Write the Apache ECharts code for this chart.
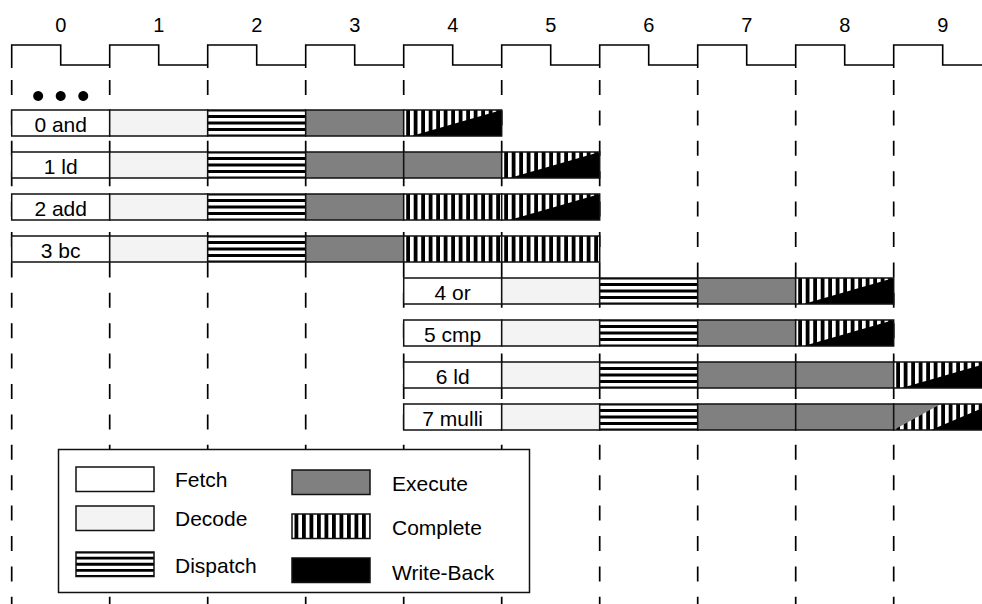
<!DOCTYPE html>
<html>
<head>
<meta charset="utf-8">
<script src="https://cdn.jsdelivr.net/npm/echarts@6/dist/echarts.min.js"></script>
<style>
html,body{margin:0;padding:0;background:#fff;}
#chart{width:982px;height:604px;}
</style>
</head>
<body>
<div id="chart"></div>
<script>
// ---------------- data ----------------
const cycleLabels = ['0','1','2','3','4','5','6','7','8','9'];
const instrLabels = ['0 and','1 ld','2 add','3 bc','4 or','5 cmp','6 ld','7 mulli'];
const fetchCycle = [0,0,0,0,4,4,4,4];
const stageSequences = [
  ['fetch','decode','dispatch','execute','complete-wb'],
  ['fetch','decode','dispatch','execute','execute','complete-wb'],
  ['fetch','decode','dispatch','execute','complete','complete-wb'],
  ['fetch','decode','dispatch','execute','complete','complete'],
  ['fetch','decode','dispatch','execute','complete-wb'],
  ['fetch','decode','dispatch','execute','complete-wb'],
  ['fetch','decode','dispatch','execute','execute','complete-wb'],
  ['fetch','decode','dispatch','execute','execute','execute-complete-wb']
];
const legendStages = ['Fetch','Decode','Dispatch','Execute','Complete','Write-Back'];
const legendKinds  = ['fetch','decode','dispatch','execute','complete','writeback'];

// ---------------- layout constants (row units / pixels) ----------------
const X_MAX = (982 - 11.7) / 98;
const Y_MIN = -123/42, Y_MAX = (604-123)/42;
const HALF = 13/42;
const CLOCK_HIGH = (45-123)/42, CLOCK_LOW = (65-123)/42, CLOCK_EDGE = (68-123)/42;
const LABEL_ROW = (25-123)/42;
const DASH_TOP = (80-123)/42, DASH_BOTTOM = Y_MAX + 0.1;
const DOTS_ROW = (96-123)/42;
const FONT = '"Liberation Sans", Arial, Helvetica, sans-serif';
const BORDER = '#111';
const FILLS = {fetch:'#ffffff', decode:'#f3f3f3', dispatch:'#ffffff', execute:'#808080',
  complete:'#ffffff', 'complete-wb':'#ffffff', 'execute-complete-wb':'#ffffff', writeback:'#000000'};

// build cells
const cells = [];
stageSequences.forEach((seq, row) => {
  seq.forEach((kind, j) => {
    cells.push({row, cycle: fetchCycle[row] + j, kind, label: j === 0 ? instrLabels[row] : ''});
  });
});

function rect(x,y,w,h,fill,z){ return {type:'rect', z:z, shape:{x,y,width:w,height:h}, style:{fill, stroke:null}}; }
function poly(points, fill, z){ return {type:'polygon', z:z, shape:{points}, style:{fill, stroke:null}}; }
function txt(x,y,text,size,align,z){
  return {type:'text', z:z, style:{x, y, text, fill:'#000', fontSize:size, fontFamily:FONT,
    align:align, textAlign:align, verticalAlign:'middle', textVerticalAlign:'middle'}};
}
function hStripes(x,y,w,h,z){
  const out = []; const p = h/4;
  for (let k=0;k<=4;k++){
    let y0 = y + k*p - 1.4, y1 = y0 + 2.8;
    y0 = Math.max(y0, y); y1 = Math.min(y1, y+h);
    out.push(rect(x, y0, w, y1-y0, '#000', z));
  }
  return out;
}
function vStripes(x,y,w,h,period,z){
  const out = [];
  for (let sx = x + 2.5; sx < x + w; sx += period){
    out.push(rect(sx, y, Math.min(3.8, x + w - sx), h, '#000', z));
  }
  return out;
}
function swatch(kind, x, y, w, h, z){
  const ch = [];
  ch.push(rect(x,y,w,h,FILLS[kind], z));
  if (kind === 'dispatch') ch.push(...hStripes(x,y,w,h,z));
  if (kind === 'complete' || kind === 'complete-wb' || kind === 'execute-complete-wb')
    ch.push(...vStripes(x,y,w,h,7.5,z));
  if (kind === 'complete-wb')
    ch.push(poly([[x+0.08*w,y+h],[x+w,y],[x+w,y+h]], '#000', z));
  if (kind === 'execute-complete-wb'){
    ch.push(poly([[x,y],[x+0.48*w,y],[x,y+h]], '#808080', z));
    ch.push(poly([[x+0.38*w,y+h],[x+w,y],[x+w,y+h]], '#000', z));
  }
  ch.push({type:'rect', z:z, shape:{x,y,width:w,height:h}, style:{fill:null, stroke:BORDER, lineWidth:1.5}});
  return ch;
}

// ---------------- legend (graphic) ----------------
const legendEls = [];
legendEls.push({type:'rect', z:100, shape:{x:58.5, y:449.5, width:471, height:143},
  style:{fill:'#fff', stroke:BORDER, lineWidth:1.5}});
const legendPos = [
  {sx:76, sy:467, tx:175, ty:479}, {sx:76, sy:506, tx:175, ty:518}, {sx:76, sy:552, tx:175, ty:565},
  {sx:292, sy:470, tx:392, ty:483}, {sx:292, sy:514, tx:392, ty:527}, {sx:292, sy:558, tx:392, ty:572}
];
legendStages.forEach((name, i) => {
  const p = legendPos[i];
  swatch(legendKinds[i], p.sx, p.sy, 78, 24.5, 101).forEach(e => legendEls.push(e));
  legendEls.push(txt(p.tx, p.ty, name, 21, 'left', 102));
});

// ---------------- chart ----------------
const chart = echarts.init(document.getElementById('chart'), null, {renderer:'svg'});
const option = {
  animation: false,
  backgroundColor: '#ffffff',
  grid: {left: 11.7, top: 0, right: 0, bottom: 0},
  xAxis: {type:'value', min:0, max:X_MAX, show:false},
  yAxis: {type:'value', inverse:true, min:Y_MIN, max:Y_MAX, show:false},
  series: [
    { // dashed cycle boundaries
      type:'custom', name:'boundaries', z:1, clip:false, silent:true,
      data: cycleLabels.map((_, c) => [c]),
      renderItem: (params, api) => {
        const c = api.value(0);
        const a = api.coord([c, DASH_TOP]), b = api.coord([c, DASH_BOTTOM]);
        return {type:'line', shape:{x1:a[0], y1:a[1], x2:b[0], y2:b[1]},
          style:{stroke:'#000', lineWidth:1.7, lineDash:[15,15.4]}};
      }
    },
    { // clock waveform
      type:'custom', name:'clock', z:2, clip:false, silent:true,
      data: cycleLabels.map((_, c) => [c]),
      renderItem: (params, api) => {
        const c = api.value(0);
        const pts = [[c, CLOCK_EDGE],[c, CLOCK_HIGH],[c+0.5, CLOCK_HIGH],[c+0.5, CLOCK_LOW],[c+1, CLOCK_LOW]]
          .map(p => api.coord(p));
        return {type:'polyline', shape:{points:pts}, style:{stroke:'#000', lineWidth:1.6, fill:null}};
      }
    },
    { // cycle numbers
      type:'custom', name:'cycles', z:2, clip:false, silent:true,
      data: cycleLabels.map((l, c) => [c + 0.5, LABEL_ROW]),
      renderItem: (params, api) => {
        const p = api.coord([api.value(0), api.value(1)]);
        return txt(p[0], p[1], cycleLabels[params.dataIndex], 20, 'center');
      }
    },
    { // ellipsis dots before instruction 0
      type:'custom', name:'ellipsis', z:2, clip:false, silent:true,
      data: [[0, DOTS_ROW]],
      renderItem: (params, api) => {
        const w = api.size([1,0])[0];
        const p = api.coord([api.value(0), api.value(1)]);
        return {type:'group', children:[0.27,0.5,0.73].map(f => ({type:'circle',
          shape:{cx:p[0]+f*w, cy:p[1], r:5}, style:{fill:'#000'}}))};
      }
    },
    { // pipeline stage cells
      type:'custom', name:'pipeline', z:5, clip:false, silent:true,
      data: cells.map(c => [c.cycle, c.row]),
      renderItem: (params, api) => {
        const cell = cells[params.dataIndex];
        const tl = api.coord([api.value(0), api.value(1) - HALF]);
        const br = api.coord([api.value(0) + 1, api.value(1) + HALF]);
        const x = tl[0], y = tl[1], w = br[0]-tl[0], h = br[1]-tl[1];
        const ch = swatch(cell.kind, x, y, w, h);
        if (cell.label) ch.push(txt(x + w/2, y + h/2 + 1, cell.label, 21, 'center'));
        return {type:'group', children: ch};
      }
    }
  ],
  graphic: legendEls
};
chart.setOption(option);
</script>
</body>
</html>
